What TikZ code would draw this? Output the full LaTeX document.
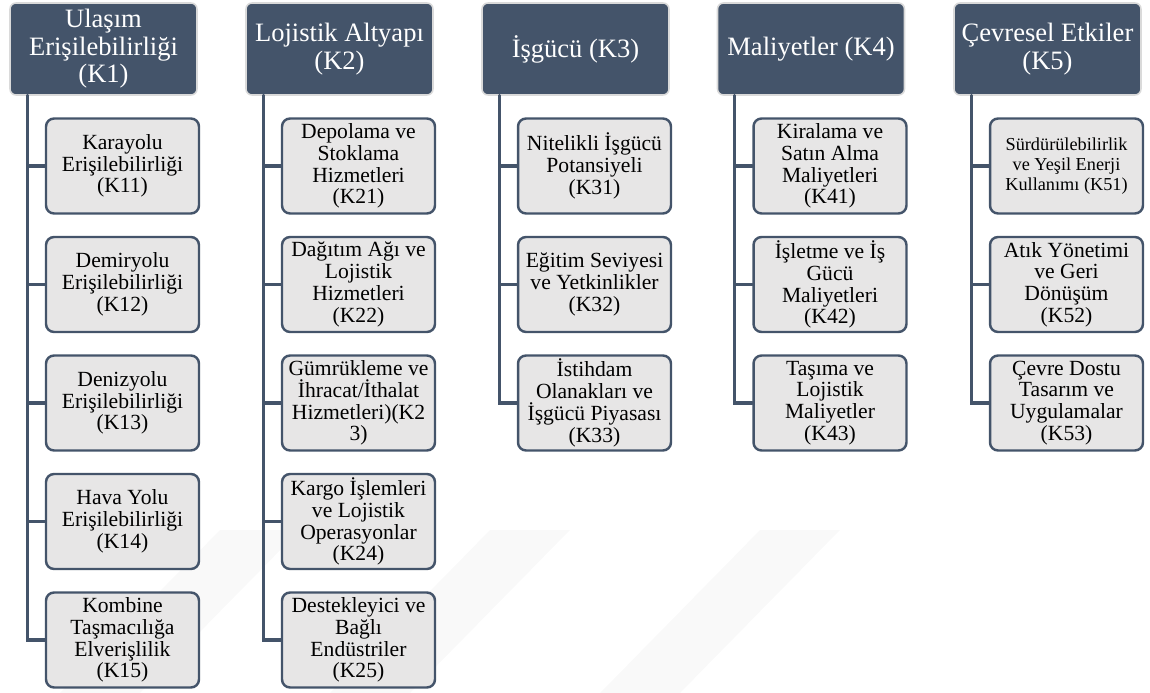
\documentclass[tikz,border=0pt]{standalone}
\usepackage{fontspec}
\setmainfont{Liberation Serif}
\usepackage{tikz}
\usepackage{xcolor}

\definecolor{headblue}{HTML}{44546A}
\definecolor{itemgray}{HTML}{E7E6E6}
\definecolor{headedge}{HTML}{DADADA}

\begin{document}
\begin{tikzpicture}[x=0.02cm,y=-0.02cm,line cap=round,
  head/.style={draw=headedge,line width=0.9pt,fill=headblue,text=white,rounded corners=0.12cm,
    minimum width=3.74cm,minimum height=1.84cm,inner sep=1pt,align=center,
    font={\fontsize{15.1}{15.6}\selectfont}},
  item/.style={draw=headblue,line width=1.4pt,fill=itemgray,rounded corners=0.16cm,
    minimum width=3.06cm,minimum height=1.9cm,inner sep=1pt,align=center,
    font={\fontsize{12.3}{12.4}\selectfont}},
  link/.style={headblue,line width=1.8pt}]
\useasboundingbox (0,0) rectangle (1150,693);
% faint watermark bands
\fill[gray!5] (60,693) -- (140,693) -- (300,530) -- (220,530) -- cycle;
\fill[gray!5] (330,693) -- (410,693) -- (570,530) -- (490,530) -- cycle;
\fill[gray!5] (600,693) -- (680,693) -- (840,530) -- (760,530) -- cycle;

% headings
\node[head] (h1) at (103.5,49) {Ulaşım\\Erişilebilirliği\\(K1)};
\node[head] (h2) at (339.5,49) {Lojistik Altyapı\\(K2)};
\node[head] (h3) at (575.5,49) {İşgücü (K3)};
\node[head] (h4) at (811,49) {Maliyetler (K4)};
\node[head] (h5) at (1047.5,49) {Çevresel Etkiler\\(K5)};

% K1
\node[item] (k11) at (122.5,166) {Karayolu\\Erişilebilirliği\\(K11)};
\node[item] (k12) at (122.5,284.5) {Demiryolu\\Erişilebilirliği\\(K12)};
\node[item] (k13) at (122.5,403) {Denizyolu\\Erişilebilirliği\\(K13)};
\node[item] (k14) at (122.5,521.5) {Hava Yolu\\Erişilebilirliği\\(K14)};
\node[item] (k15) at (122.5,640) {Kombine\\Taşmacılığa\\Elverişlilik\\(K15)};

% K2
\node[item] (k21) at (358.5,166) {Depolama ve\\Stoklama\\Hizmetleri\\(K21)};
\node[item] (k22) at (358.5,284.5) {Dağıtım Ağı ve\\Lojistik\\Hizmetleri\\(K22)};
\node[item] (k23) at (358.5,403) {Gümrükleme ve\\İhracat/İthalat\\Hizmetleri)(K2\\3)};
\node[item] (k24) at (358.5,521.5) {Kargo İşlemleri\\ve Lojistik\\Operasyonlar\\(K24)};
\node[item] (k25) at (358.5,640) {Destekleyici ve\\Bağlı\\Endüstriler\\(K25)};

% K3
\node[item] (k31) at (594.5,166) {Nitelikli İşgücü\\Potansiyeli\\(K31)};
\node[item] (k32) at (594.5,284.5) {Eğitim Seviyesi\\ve Yetkinlikler\\(K32)};
\node[item] (k33) at (594.5,403) {İstihdam\\Olanakları ve\\İşgücü Piyasası\\(K33)};

% K4
\node[item] (k41) at (830,166) {Kiralama ve\\Satın Alma\\Maliyetleri\\(K41)};
\node[item] (k42) at (830,284.5) {İşletme ve İş\\Gücü\\Maliyetleri\\(K42)};
\node[item] (k43) at (830,403) {Taşıma ve\\Lojistik\\Maliyetler\\(K43)};

% K5
\node[item,font={\fontsize{10.4}{11.6}\selectfont}] (k51) at (1066.5,166) {Sürdürülebilirlik\\ve Yeşil Enerji\\Kullanımı (K51)};
\node[item] (k52) at (1066.5,284.5) {Atık Yönetimi\\ve Geri\\Dönüşüm\\(K52)};
\node[item] (k53) at (1066.5,403) {Çevre Dostu\\Tasarım ve\\Uygulamalar\\(K53)};

% connectors
\draw[link] ([xshift=0.36cm]h1.south west) |- (k11.west);
\draw[link] ([xshift=0.36cm]h1.south west) |- (k12.west);
\draw[link] ([xshift=0.36cm]h1.south west) |- (k13.west);
\draw[link] ([xshift=0.36cm]h1.south west) |- (k14.west);
\draw[link] ([xshift=0.36cm]h1.south west) |- (k15.west);
\draw[link] ([xshift=0.36cm]h2.south west) |- (k21.west);
\draw[link] ([xshift=0.36cm]h2.south west) |- (k22.west);
\draw[link] ([xshift=0.36cm]h2.south west) |- (k23.west);
\draw[link] ([xshift=0.36cm]h2.south west) |- (k24.west);
\draw[link] ([xshift=0.36cm]h2.south west) |- (k25.west);
\draw[link] ([xshift=0.36cm]h3.south west) |- (k31.west);
\draw[link] ([xshift=0.36cm]h3.south west) |- (k32.west);
\draw[link] ([xshift=0.36cm]h3.south west) |- (k33.west);
\draw[link] ([xshift=0.36cm]h4.south west) |- (k41.west);
\draw[link] ([xshift=0.36cm]h4.south west) |- (k42.west);
\draw[link] ([xshift=0.36cm]h4.south west) |- (k43.west);
\draw[link] ([xshift=0.36cm]h5.south west) |- (k51.west);
\draw[link] ([xshift=0.36cm]h5.south west) |- (k52.west);
\draw[link] ([xshift=0.36cm]h5.south west) |- (k53.west);
\end{tikzpicture}
\end{document}
